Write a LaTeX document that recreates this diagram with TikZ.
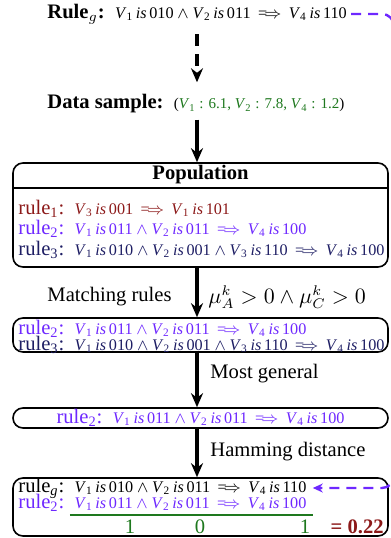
\documentclass[tikz,border=0pt]{standalone}
\usepackage{amsmath,amssymb}
\usepackage{fontspec}
\setmainfont{Liberation Serif}
\usepackage{xcolor}
\usetikzlibrary{positioning,arrows.meta}

\definecolor{ruleone}{RGB}{140,25,25}
\definecolor{ruletwo}{RGB}{110,40,255}
\definecolor{rulethree}{RGB}{30,30,100}
\definecolor{datagreen}{RGB}{30,120,30}

\newcommand{\rulefont}{\fontsize{8.1}{10}\selectfont}
\newcommand{\vis}[2]{\textit{V}\textsubscript{#1}\,\textit{is}\,#2}
\newcommand{\cand}{${}\wedge{}$}
\newcommand{\thn}{\,$\implies$\,}

\begin{document}
\begin{tikzpicture}[x=0.5pt, y=-0.5pt,
  font=\fontsize{10.3}{12}\selectfont,
  box/.style={draw, thick, rounded corners=5pt, minimum width=187.5pt, inner sep=0pt},
  rline/.style={anchor=west, inner sep=0pt},
  lbl/.style={inner sep=0pt},
  arr/.style={-{Stealth[length=7pt, width=6pt]}, line width=2pt},
  gdash/.style={-{Stealth[length=5pt, width=4.5pt]}, draw=ruletwo, line width=1.2pt,
                dash pattern=on 5pt off 3.5pt, rounded corners=6pt}]
  \useasboundingbox (0,0) rectangle (391,538);
  \coordinate (ax) at (197,0);

  % generating rule and sample
  \node[rline] (rg) at (47,14) {\textbf{Rule}$_g$\textbf{:}\ \ {\rulefont\vis{1}{010}\cand\vis{2}{011}\thn\vis{4}{110}}};
  \node[rline] (ds) at (47,104) {\textbf{Data sample:}\ \ {\fontsize{7.5}{10}\selectfont(\textcolor{datagreen}{\textit{V}\textsubscript{1} : 6.1, \textit{V}\textsubscript{2} : 7.8, \textit{V}\textsubscript{4} : 1.2})}};

  % population
  \node[box, minimum height=52pt] (pop) at (200.5,215) {};
  \node[lbl] (pophead) at (200.5,175) {\textbf{Population}};
  \draw[thick] (pop.west |- 0,188) -- (pop.east |- 0,188);
  \node[rline, text=ruleone] (p1) at (18,209) {rule\textsubscript{1}:\ \ {\rulefont\vis{3}{001}\thn\vis{1}{101}}};
  \node[rline, text=ruletwo] (p2) at (18,229) {rule\textsubscript{2}:\ \ {\rulefont\vis{1}{011}\cand\vis{2}{011}\thn\vis{4}{100}}};
  \node[rline, text=rulethree] (p3) at (18,250) {rule\textsubscript{3}:\ \ {\rulefont\vis{1}{010}\cand\vis{2}{001}\cand\vis{3}{110}\thn\vis{4}{100}}};

  % matching rules
  \node[box, minimum height=17pt] (match) at (200.5,335) {};
  \node[rline, text=ruletwo] (m2) at (18,329) {rule\textsubscript{2}:\ \ {\rulefont\vis{1}{011}\cand\vis{2}{011}\thn\vis{4}{100}}};
  \node[rline, text=rulethree] (m3) at (18,345) {rule\textsubscript{3}:\ \ {\rulefont\vis{1}{010}\cand\vis{2}{001}\cand\vis{3}{110}\thn\vis{4}{100}}};

  % most general
  \node[box, minimum height=10pt, text=ruletwo] (gen) at (200.5,418) {rule\textsubscript{2}:\ \ {\rulefont\vis{1}{011}\cand\vis{2}{011}\thn\vis{4}{100}}};

  % hamming distance
  \node[box, minimum height=29pt] (ham) at (200.5,507) {};
  \node[rline] (hg) at (18,488) {rule\textsubscript{\textit{g}}:\ \ {\rulefont\vis{1}{010}\cand\vis{2}{011}\thn\vis{4}{110}}};
  \node[rline, text=ruletwo] (h2) at (18,503) {rule\textsubscript{2}:\ \ {\rulefont\vis{1}{011}\cand\vis{2}{011}\thn\vis{4}{100}}};
  \draw[datagreen, line width=0.9pt] (70,515) -- (313,515);
  \foreach \x/\d in {130/1, 200/0, 305/1}
    \node[lbl, text=datagreen] at (\x,527) {\d};
  \node[lbl, anchor=east, text=ruleone] (dist) at (384,527) {\textbf{= 0.22}};

  % arrows and labels
  \draw[arr, dash pattern=on 6pt off 4pt] ([yshift=-5pt]rg.south -| ax) -- ([yshift=6pt]ds.north -| ax);
  \draw[arr] ([yshift=-3pt]ds.south -| ax) -- (pop.north -| ax);
  \draw[arr] (pop.south -| ax) -- (match.north -| ax);
  \draw[arr] (match.south -| ax) -- (gen.north -| ax);
  \draw[arr] (gen.south -| ax) -- (ham.north -| ax);
  \node[lbl, anchor=east] (lmatch) at (172,297) {Matching rules};
  \node[lbl, anchor=west, font=\fontsize{10.7}{13}\selectfont] (lmu) at (208,297) {$\mu_A^k > 0 \wedge \mu_C^k > 0$};
  \node[lbl, anchor=west] (lgen) at (210,374) {Most general};
  \node[lbl, anchor=west] (lham) at (210,452) {Hamming distance};
  \draw[gdash] ([xshift=2pt]rg.east) -- (rg.east -| 394,0) |- ([xshift=3pt]hg.east);
\end{tikzpicture}
\end{document}
